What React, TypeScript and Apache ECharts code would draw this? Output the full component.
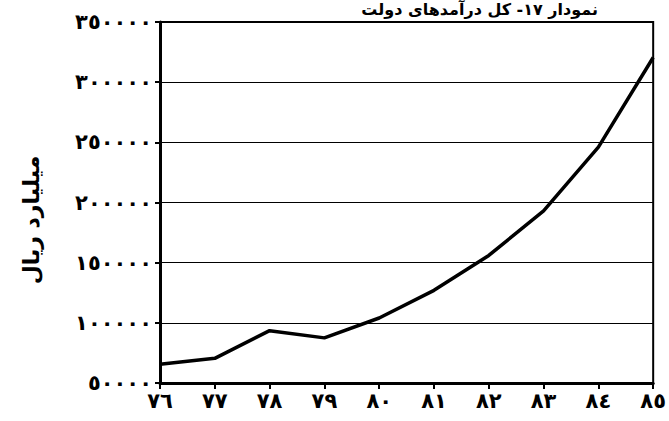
import React, { useEffect, useRef } from "react";
import * as echarts from "echarts";

const years = ["٧٦", "٧٧", "٧٨", "٧٩", "٨٠", "٨١", "٨٢", "٨٣", "٨٤", "٨٥"];
const revenue = [65500, 70500, 93500, 87500, 104000, 127000, 156000, 193000, 246000, 320500];
const yTicks: Record<number, string> = {
  50000: "٥٠٠٠٠",
  100000: "١٠٠٠٠٠",
  150000: "١٥٠٠٠٠",
  200000: "٢٠٠٠٠٠",
  250000: "٢٥٠٠٠٠",
  300000: "٣٠٠٠٠٠",
  350000: "٣٥٠٠٠٠",
};
const titleText = "نمودار ١٧- کل درآمدهای دولت";
const yName = "میلیارد ریال";

export default function App() {
  const ref = useRef<HTMLDivElement>(null);
  useEffect(() => {
    if (!ref.current) return;
    const chart = echarts.init(ref.current, null, { renderer: "svg" });
    const font = "'DejaVu Sans', sans-serif";
    chart.setOption({
      animation: false,
      backgroundColor: "#fff",
      grid: {
        left: 160,
        right: 12,
        top: 22,
        bottom: 38,
        show: true,
        borderColor: "#000",
        borderWidth: 2,
      },
      graphic: [
        {
          type: "text",
          x: 598,
          y: 1,
          style: {
            text: titleText,
            font: "bold 16px " + font,
            fill: "#000",
            align: "right",
            verticalAlign: "top",
          },
        },
        {
          type: "text",
          x: 31,
          y: 220,
          rotation: Math.PI / 2,
          style: {
            text: yName,
            font: "bold 22px " + font,
            fill: "#000",
            align: "center",
            verticalAlign: "middle",
          },
        },
      ],
      xAxis: {
        type: "category",
        data: years,
        boundaryGap: false,
        axisLine: { lineStyle: { color: "#000", width: 3 } },
        axisTick: { show: true, length: 6, lineStyle: { color: "#000", width: 2 } },
        axisLabel: {
          color: "#000",
          fontSize: 21,
          fontWeight: "bold",
          fontFamily: font,
          margin: 7,
        },
        splitLine: { show: false },
      },
      yAxis: {
        type: "value",
        min: 50000,
        max: 350000,
        interval: 50000,
        axisLine: { show: true, lineStyle: { color: "#000", width: 3 } },
        axisTick: { show: true, length: 5, lineStyle: { color: "#000", width: 2 } },
        axisLabel: {
          color: "#000",
          fontSize: 21,
          fontWeight: "bold",
          fontFamily: font,
          margin: 8,
          formatter: (v: number) => yTicks[v] ?? String(v),
        },
        splitLine: { show: true, lineStyle: { color: "#000", width: 1 } },
      },
      series: [
        {
          type: "line",
          data: revenue,
          symbol: "none",
          lineStyle: { color: "#000", width: 3.5 },
        },
      ],
    });
    return () => chart.dispose();
  }, []);
  return <div ref={ref} style={{ width: 669, height: 421, position: "absolute", left: 0, top: 0 }} />;
}
